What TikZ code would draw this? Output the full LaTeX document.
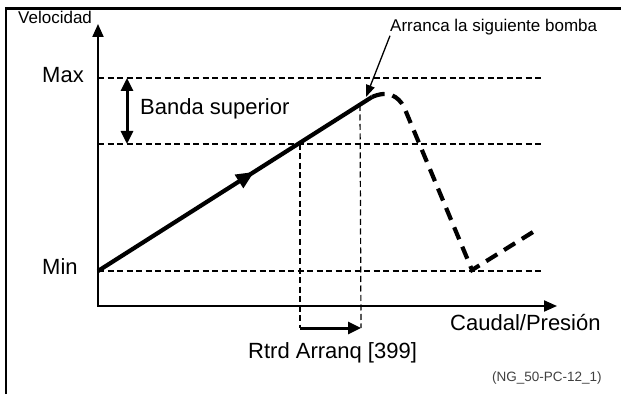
\documentclass[tikz,border=0pt]{standalone}
\usepackage{fontspec}
\setmainfont{Liberation Sans}
\usetikzlibrary{arrows.meta, decorations.markings, positioning}
\tikzset{
  eje/.style={line width=2pt,{Triangle[length=13pt,width=11pt]}-{Triangle[length=13pt,width=11pt]}},
  guia/.style={line width=1.2pt,dash pattern=on 6pt off 3.5pt},
  curva/.style={line width=4.2pt},
  flecha/.style={line width=3pt},
  nota/.style={line width=1.3pt,-{Triangle[length=12pt,width=9pt]}},
  etiqueta/.style={inner sep=0pt,font=\fontsize{22}{26}\selectfont},
  pequena/.style={inner sep=0pt,font=\fontsize{17}{20}\selectfont}
}

\begin{document}
\begin{tikzpicture}[x=1pt,y=1pt]
\useasboundingbox (0,0) rectangle (621,394);

% marco
\draw[line width=2.8pt] (6,0) -- (6,385.5) -- (621,385.5);

% ejes
\coordinate (O) at (98,88);
\coordinate (ytop) at (98,370);
\coordinate (xfin) at (557,88);
\draw[eje] (ytop) -- (O) -- (xfin);
\node[pequena, anchor=base west] (velocidad) at (18,370) {Velocidad};
\node[etiqueta, anchor=base west] (caudal) at (450,64) {Caudal/Presión};

% niveles Max, banda, Min
\foreach \n/\y in {max/316, banda/250, min/123}{
  \coordinate (\n) at (98,\y);
  \coordinate (\n fin) at (542,\y);
  \draw[guia] (\n) -- (\n fin);
}
\node[etiqueta, anchor=base west] (maxtxt) at (42,311) {Max};
\node[etiqueta, anchor=base west] (mintxt) at (42,120) {Min};

% banda superior
\coordinate (bs) at (127,316);
\coordinate (bi) at (127,250);
\draw[flecha, {Triangle[length=13pt,width=12pt]}-{Triangle[length=13pt,width=12pt]}] (bs) -- (bi);
\node[etiqueta, anchor=base west] (banda txt) at (140,279) {Banda superior};

% velocidad de la bomba
\coordinate (arranque) at (372,297);
\coordinate (valle) at (472,124);
\coordinate (final) at (533,162);
\draw[curva, postaction={decorate}, decoration={markings,
  mark=at position 0.57 with {\arrow{Triangle[length=18pt,width=15pt]}}}] (min) -- (arranque);
\draw[curva, dash pattern=on 13pt off 8pt] (arranque) .. controls (388,304) and (398,298) .. (404,287) -- (valle) -- (final);

% retardo de arranque
\coordinate (p1) at (300,250);
\coordinate (p1b) at (300,66);
\coordinate (p2) at (360,289);
\coordinate (p2b) at (361,66);
\draw[guia] (p1) -- (p1b);
\draw[guia] (p2) -- (p2b);
\draw[flecha, -{Triangle[length=13pt,width=12pt]}] (p1b) -- (p2b);
\node[etiqueta, anchor=base west] (rtrd) at (248,36) {Rtrd Arranq [399]};

% nota
\node[pequena, anchor=base west] (arranca) at (390,362) {Arranca la siguiente bomba};
\coordinate (punta) at (366,297);
\draw[nota] (arranca.south west) -- (punta);

\node[inner sep=0pt, anchor=base west, font=\fontsize{13.5}{16}\selectfont, text=black!75] (ref) at (492,13) {(NG\_50-PC-12\_1)};
\end{tikzpicture}
\end{document}
